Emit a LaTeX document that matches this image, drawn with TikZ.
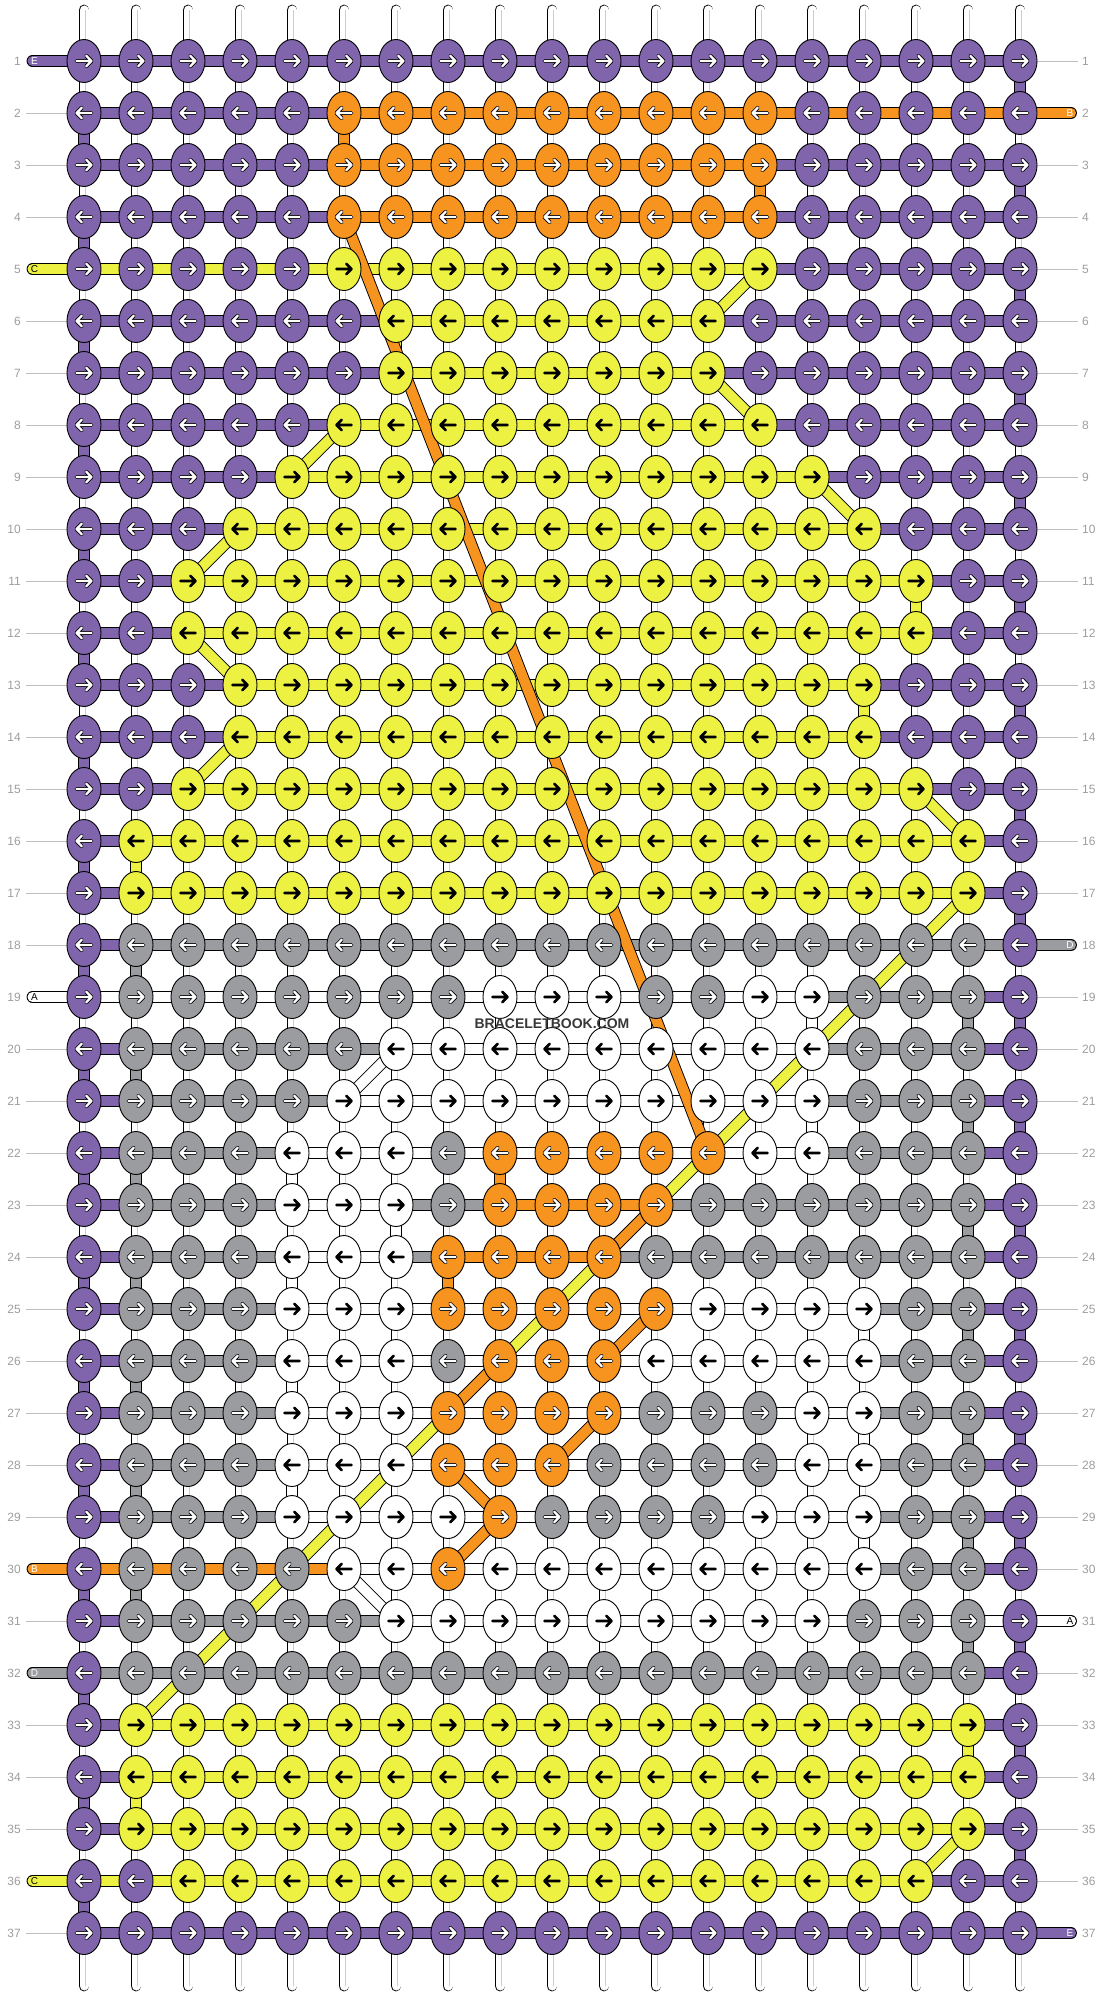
\documentclass[tikz,border=0pt]{standalone}
\usepackage{fontspec}
\setmainfont{Liberation Sans}
\usetikzlibrary{shapes.geometric}

\definecolor{kP}{RGB}{128,101,173}
\definecolor{kO}{RGB}{247,148,31}
\definecolor{kY}{RGB}{237,242,66}
\definecolor{kG}{RGB}{154,156,159}
\definecolor{kW}{RGB}{255,255,255}

\begin{document}
\begin{tikzpicture}[x=1pt,y=-1pt]
\tikzstyle{knot} = [shape=ellipse,draw=black,line width=0.9pt,minimum width=34pt,minimum height=43pt,inner sep=0pt]
\tikzstyle{thread} = [draw=black,line width=0.9pt,double distance=10pt]
\tikzstyle{strand} = [draw=black,line width=0.9pt,double=white,double distance=9pt,line cap=round]
\tikzstyle{grain} = [draw=black!20,line width=0.7pt]
\tikzstyle{outarrow} = [draw=white,line width=2.3pt,line cap=round,line join=round,preaction={draw=black,line width=3.9pt,line cap=round,line join=round}]
\tikzstyle{solidarrow} = [draw=black,line width=2.6pt,line cap=round,line join=round]
\tikzstyle{arrowP} = [outarrow]
\tikzstyle{arrowO} = [outarrow]
\tikzstyle{arrowG} = [outarrow]
\tikzstyle{arrowY} = [solidarrow]
\tikzstyle{arrowW} = [solidarrow]
\tikzstyle{rownum} = [text=black!38,font=\fontsize{12}{12}\selectfont,inner sep=0pt]
\tikzstyle{tag} = [font=\fontsize{10}{10}\selectfont,inner sep=0pt]
\tikzstyle{labelline} = [draw=black!25,line width=0.9pt]

\pgfdeclarelayer{strands}
\pgfdeclarelayer{background}
\pgfsetlayers{strands,background,main}

\useasboundingbox (0,0) rectangle (1104,1996);

% knots: row/first/last/colour
\foreach \r/\ca/\cb/\col in {
1/1/19/P,
2/1/5/P, 2/6/14/O, 2/15/19/P,
3/1/5/P, 3/6/14/O, 3/15/19/P,
4/1/5/P, 4/6/14/O, 4/15/19/P,
5/1/5/P, 5/6/14/Y, 5/15/19/P,
6/1/6/P, 6/7/13/Y, 6/14/19/P,
7/1/6/P, 7/7/13/Y, 7/14/19/P,
8/1/5/P, 8/6/14/Y, 8/15/19/P,
9/1/4/P, 9/5/15/Y, 9/16/19/P,
10/1/3/P, 10/4/16/Y, 10/17/19/P,
11/1/2/P, 11/3/17/Y, 11/18/19/P,
12/1/2/P, 12/3/17/Y, 12/18/19/P,
13/1/3/P, 13/4/16/Y, 13/17/19/P,
14/1/3/P, 14/4/16/Y, 14/17/19/P,
15/1/2/P, 15/3/17/Y, 15/18/19/P,
16/1/1/P, 16/2/18/Y, 16/19/19/P,
17/1/1/P, 17/2/18/Y, 17/19/19/P,
18/1/1/P, 18/2/18/G, 18/19/19/P,
19/1/1/P, 19/2/8/G, 19/9/11/W, 19/12/13/G, 19/14/15/W, 19/16/18/G, 19/19/19/P,
20/1/1/P, 20/2/6/G, 20/7/15/W, 20/16/18/G, 20/19/19/P,
21/1/1/P, 21/2/5/G, 21/6/15/W, 21/16/18/G, 21/19/19/P,
22/1/1/P, 22/2/4/G, 22/5/7/W, 22/8/8/G, 22/9/13/O, 22/14/15/W, 22/16/18/G, 22/19/19/P,
23/1/1/P, 23/2/4/G, 23/5/7/W, 23/8/8/G, 23/9/12/O, 23/13/18/G, 23/19/19/P,
24/1/1/P, 24/2/4/G, 24/5/7/W, 24/8/11/O, 24/12/18/G, 24/19/19/P,
25/1/1/P, 25/2/4/G, 25/5/7/W, 25/8/12/O, 25/13/16/W, 25/17/18/G, 25/19/19/P,
26/1/1/P, 26/2/4/G, 26/5/7/W, 26/8/8/G, 26/9/11/O, 26/12/16/W, 26/17/18/G, 26/19/19/P,
27/1/1/P, 27/2/4/G, 27/5/7/W, 27/8/11/O, 27/12/14/G, 27/15/16/W, 27/17/18/G, 27/19/19/P,
28/1/1/P, 28/2/4/G, 28/5/7/W, 28/8/10/O, 28/11/14/G, 28/15/16/W, 28/17/18/G, 28/19/19/P,
29/1/1/P, 29/2/4/G, 29/5/8/W, 29/9/9/O, 29/10/13/G, 29/14/16/W, 29/17/18/G, 29/19/19/P,
30/1/1/P, 30/2/5/G, 30/6/7/W, 30/8/8/O, 30/9/16/W, 30/17/18/G, 30/19/19/P,
31/1/1/P, 31/2/6/G, 31/7/15/W, 31/16/18/G, 31/19/19/P,
32/1/1/P, 32/2/18/G, 32/19/19/P,
33/1/1/P, 33/2/18/Y, 33/19/19/P,
34/1/1/P, 34/2/18/Y, 34/19/19/P,
35/1/1/P, 35/2/18/Y, 35/19/19/P,
36/1/2/P, 36/3/17/Y, 36/18/19/P,
37/1/19/P}{
  \pgfmathsetmacro{\d}{ifthenelse(mod(\r,2)==1,1,-1)}
  \pgfmathsetmacro{\tip}{7.5*\d}
  \pgfmathsetmacro{\tail}{-7.5*\d}
  \pgfmathsetmacro{\barb}{2.3*\d}
  \foreach \c in {\ca,...,\cb}{
    \node[knot,fill=k\col] (k-\r-\c) at ({84+52*(\c-1)},{61+52*(\r-1)}) {};
    \draw[arrow\col] ([xshift=\tail pt]k-\r-\c.center) -- ([xshift=\tip pt]k-\r-\c.center)
      ([xshift=\barb pt,yshift=5.2pt]k-\r-\c.center) -- ([xshift=\tip pt]k-\r-\c.center) -- ([xshift=\barb pt,yshift=-5.2pt]k-\r-\c.center);
  }
}

\foreach \r in {1,...,37}{
  \node[rownum,anchor=east] (ln-\r) at (21,{61+52*(\r-1)}) {\r};
  \node[rownum,anchor=west] (rn-\r) at (1082,{61+52*(\r-1)}) {\r};
}

\node[font=\bfseries\fontsize{14}{14}\selectfont,text=black!78] (brand) at (552,1024) {BRACELETBOOK.COM};

\begin{pgfonlayer}{background}
% threads along the rows: row/first gap/last gap/colour
\foreach \r/\ca/\cb/\col in {
1/1/18/P,
2/1/5/P, 2/6/18/O,
3/1/5/P, 3/6/13/O, 3/14/18/P,
4/1/5/P, 4/6/13/O, 4/14/18/P,
5/1/13/Y, 5/14/18/P,
6/1/6/P, 6/7/12/Y, 6/13/18/P,
7/1/6/P, 7/7/12/Y, 7/13/18/P,
8/1/5/P, 8/6/13/Y, 8/14/18/P,
9/1/4/P, 9/5/14/Y, 9/15/18/P,
10/1/3/P, 10/4/15/Y, 10/16/18/P,
11/1/2/P, 11/3/16/Y, 11/17/18/P,
12/1/2/P, 12/3/16/Y, 12/17/18/P,
13/1/3/P, 13/4/15/Y, 13/16/18/P,
14/1/3/P, 14/4/15/Y, 14/16/18/P,
15/1/2/P, 15/3/16/Y, 15/17/18/P,
16/1/1/P, 16/2/17/Y, 16/18/18/P,
17/1/1/P, 17/2/17/Y, 17/18/18/P,
18/1/1/P, 18/2/18/G,
19/1/14/W, 19/15/17/G, 19/18/18/P,
20/1/1/P, 20/2/6/G, 20/7/14/W, 20/15/17/G, 20/18/18/P,
21/1/1/P, 21/2/5/G, 21/6/14/W, 21/15/17/G, 21/18/18/P,
22/1/1/P, 22/2/4/G, 22/5/14/W, 22/15/17/G, 22/18/18/P,
23/1/1/P, 23/2/4/G, 23/5/6/W, 23/7/8/G, 23/9/11/O, 23/12/17/G, 23/18/18/P,
24/1/1/P, 24/2/4/G, 24/5/6/W, 24/7/7/G, 24/8/10/O, 24/11/17/G, 24/18/18/P,
25/1/1/P, 25/2/4/G, 25/5/15/W, 25/16/17/G, 25/18/18/P,
26/1/1/P, 26/2/4/G, 26/5/15/W, 26/16/17/G, 26/18/18/P,
27/1/1/P, 27/2/4/G, 27/5/15/W, 27/16/17/G, 27/18/18/P,
28/1/1/P, 28/2/4/G, 28/5/15/W, 28/16/17/G, 28/18/18/P,
29/1/1/P, 29/2/4/G, 29/5/15/W, 29/16/17/G, 29/18/18/P,
30/1/5/O, 30/6/15/W, 30/16/17/G, 30/18/18/P,
31/1/1/P, 31/2/6/G, 31/7/18/W,
32/1/17/G, 32/18/18/P,
33/1/1/P, 33/2/17/Y, 33/18/18/P,
34/1/1/P, 34/2/17/Y, 34/18/18/P,
35/1/1/P, 35/2/17/Y, 35/18/18/P,
36/1/16/Y, 36/17/18/P,
37/1/18/P}{
  \foreach \c in {\ca,...,\cb}{
    \pgfmathtruncatemacro{\cc}{\c+1}
    \draw[thread,double=k\col] (k-\r-\c.center) -- (k-\r-\cc.center);
  }
}

% threads turning down to the next row
\foreach \r in {1,...,36}{
  \pgfmathtruncatemacro{\rr}{\r+1}
  \pgfmathtruncatemacro{\c}{ifthenelse(mod(\r,2)==1,19,1)}
  \draw[thread,double=kP] (k-\r-\c.center) -- (k-\rr-\c.center);
}
\foreach \r in {18,...,31}{
  \pgfmathtruncatemacro{\rr}{\r+1}
  \pgfmathtruncatemacro{\c}{ifthenelse(mod(\r,2)==1,18,2)}
  \draw[thread,double=kG] (k-\r-\c.center) -- (k-\rr-\c.center);
}
\foreach \r/\c/\col in {2/6/O, 3/14/O, 22/9/O, 24/8/O,
  6/7/Y, 11/17/Y, 13/16/Y, 16/2/Y, 33/18/Y, 34/2/Y,
  19/15/W, 21/15/W, 22/5/W, 23/7/W, 24/5/W, 25/16/W, 26/5/W, 27/16/W, 28/5/W, 29/16/W}{
  \pgfmathtruncatemacro{\rr}{\r+1}
  \draw[thread,double=k\col] (k-\r-\c.center) -- (k-\rr-\c.center);
}

% threads moving across
\foreach \ra/\ca/\rb/\cb/\col in {
  5/14/6/13/Y, 7/13/8/14/Y, 8/6/9/5/Y, 9/15/10/16/Y, 10/4/11/3/Y,
  12/3/13/4/Y, 14/4/15/3/Y, 15/17/16/18/Y, 17/18/33/2/Y, 35/18/36/17/Y,
  20/7/21/6/W, 30/6/31/7/W,
  4/6/22/13/O, 23/12/24/11/O, 25/12/26/11/O, 26/9/27/8/O,
  27/11/28/10/O, 28/8/29/9/O, 29/9/30/8/O}{
  \draw[thread,double=k\col] (k-\ra-\ca.center) -- (k-\rb-\cb.center);
}

% loose ends
\foreach \r/\col/\name/\ink in {1/P/E/white, 5/Y/C/black, 19/W/A/black, 30/O/B/white, 32/G/D/white, 36/Y/C/black}{
  \coordinate (le-\r) at (32.5,{61+52*(\r-1)});
  \draw[thread,double=k\col,line cap=round] (le-\r) -- (k-\r-1.center);
  \node[tag,text=\ink] (lt-\r) at (34.5,{61+52*(\r-1)}) {\name};
}
\foreach \r/\col/\name/\ink in {2/O/B/white, 18/G/D/white, 31/W/A/black, 37/P/E/white}{
  \coordinate (re-\r) at (1071,{61+52*(\r-1)});
  \draw[thread,double=k\col,line cap=round] (k-\r-19.center) -- (re-\r);
  \node[tag,text=\ink] (rt-\r) at (1070,{61+52*(\r-1)}) {\name};
}

\foreach \r in {2,3,4,6,7,8,9,10,11,12,13,14,15,16,17,18,20,21,22,23,24,25,26,27,28,29,31,33,34,35,37}{
  \draw[labelline] ([xshift=5pt]ln-\r.east) -- (k-\r-1.center);
}
\foreach \r in {1,3,4,5,6,7,8,9,10,11,12,13,14,15,16,17,19,20,21,22,23,24,25,26,27,28,29,30,32,33,34,35,36}{
  \draw[labelline] (k-\r-19.center) -- ([xshift=-4pt]rn-\r.west);
}
\end{pgfonlayer}

\begin{pgfonlayer}{strands}
\fill[white] (0,0) rectangle (1104,1996);
\foreach \c in {1,...,19}{
  \coordinate (top-\c) at ({84+52*(\c-1)},10);
  \coordinate (bot-\c) at ({84+52*(\c-1)},1986);
  \draw[strand] (top-\c) -- (bot-\c);
  \draw[grain] ([xshift=1pt]top-\c) -- ([xshift=1pt]bot-\c);
}
\end{pgfonlayer}
\end{tikzpicture}
\end{document}
